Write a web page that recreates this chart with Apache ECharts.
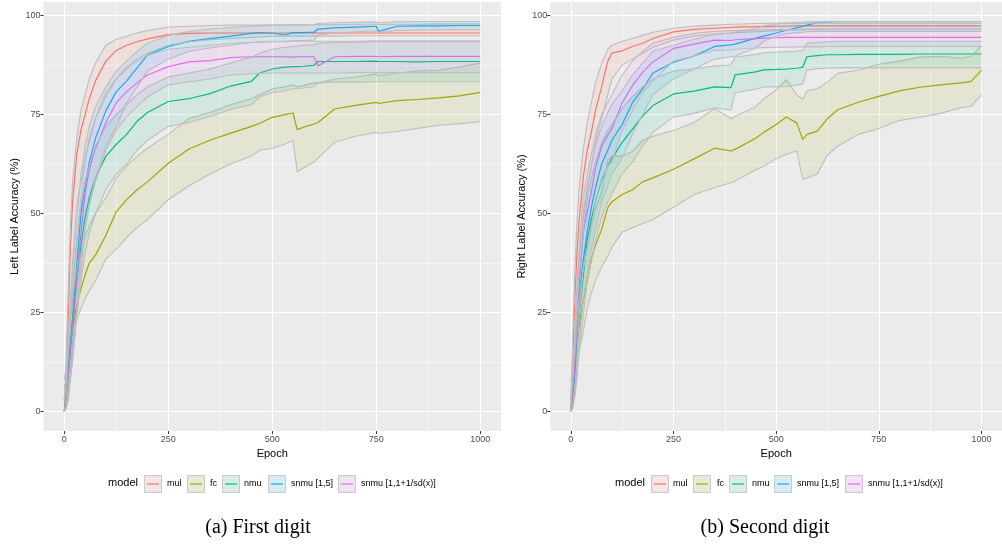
<!DOCTYPE html>
<html><head><meta charset="utf-8">
<script src="https://cdn.jsdelivr.net/npm/echarts@6/dist/echarts.min.js"></script>
<style>html,body{margin:0;padding:0;background:#fff}#c{width:1002px;height:548px}</style>
</head><body><div id="c"></div>
<script>
// ---------- data ----------
const modelNames = ['mul', 'fc', 'nmu', 'snmu [1,5]', 'snmu [1,1+1/sd(x)]'];
const xTicks = [0, 250, 500, 750, 1000];
const yTicks = [0, 25, 50, 75, 100];
const xMinor = [125, 375, 625, 875];
const yMinor = [12.5, 37.5, 62.5, 87.5];
const captions = ['(a) First digit', '(b) Second digit'];
const yTitles = ['Left Label Accuracy (%)', 'Right Label Accuracy (%)'];

// Panel (a): first digit
const epochsA = [0,5,10,15,20,30,40,50,60,75,100,125,150,175,200,250,300,350,400,450,470,500,530,550,560,575,600,610,650,700,750,755,800,850,900,950,1000];
const mulA = [0,10,26,42,53,65,71,75,79,83.5,88.5,91.2,92.5,93.4,94.1,95.2,95.5,95.6,95.6,95.6,95.7,95.6,95.6,95.6,95.6,95.6,95.7,95.6,95.6,95.6,95.6,95.6,95.6,95.6,95.6,95.6,95.6];
const mulA_hi = [2,15,32,48,58,69,76,80,84,88,92.5,94,94.8,95.6,96.2,97.1,97.3,97.5,97.6,97.6,97.6,97.7,97.7,97.7,97.7,97.7,97.7,97.7,97.7,97.8,97.8,97.8,97.8,97.8,97.9,97.9,97.9];
const mulA_lo = [0,4,16,28,38,52,58,64,68,74,80.5,84,87,89,90.5,92.5,93.4,93.9,94.2,94.5,94.6,94.8,94.8,94.8,94.8,94.8,94.8,94.8,94.8,94.9,94.9,94.9,94.9,94.9,94.9,94.9,94.9];
const fcA = [6,8,12,17,21,27,31,34.5,37.5,39.5,44.5,50.5,53.5,56,58,62.7,66.3,68.5,70.3,72,72.8,74.3,75,75.4,71.2,71.8,72.6,73,76.4,77.3,78.1,77.8,78.5,78.8,79.2,79.7,80.6];
const fcA_hi = [8,12,18,24,29,36,40,44,47,50,54,59,62,64.5,66.5,70,74,75.5,77.5,79,80,81.5,82,82.5,82,82.3,83,83,84,84.5,85.2,84.8,85.5,86,86.2,87,88];
const fcA_lo = [0,1,3,10,18,23,26,28.5,30.5,33,38.5,41,44,46.5,48.5,53.5,57,60,62.5,64.5,66,66.5,67.5,68.5,60.6,61.5,63,64,68,69.5,70.5,70.2,70.7,71.5,72.3,72.7,73.2];
const nmuA = [0,4,10,16,22,33,42,49,54,59,64.5,67.5,70,73.3,75.5,78.3,79,80.3,82.2,83.4,85.5,86.5,87,87.1,87.1,87.2,87.4,88.4,88.4,88.4,88.5,88.4,88.4,88.3,88.4,88.4,88.4];
const nmuA_hi = [3,8,16,24,31,43,52,58,62,67,72,75,77.5,80,82,84.5,85.5,86.5,88,89.5,90.5,91.5,92,92.2,92.3,92.5,92.6,93,93.2,93.3,93.4,93.4,93.4,93.4,93.4,93.4,93.4];
const nmuA_lo = [0,1,5,9,14,24,33,40,45,50,56,60,62.5,66,68.5,72,73,74.5,76.3,77.5,79.5,80.5,81,81.5,81.5,81.7,82,83,83.2,83.2,83.3,83.3,83.3,83.3,83.3,83.3,83.3];
const s15A = [0,5,12,18,24,37,50,57,63,69,76,80.8,83.5,86.8,90,92.2,93.5,94.2,94.8,95.5,95.6,95.6,95.1,95.7,95.7,95.7,95.8,96.6,96.9,97.1,97.3,96,97.3,97.4,97.4,97.5,97.5];
const s15A_hi = [3,10,20,28,35,48,60,67,72,77,82,86,88.5,91,93,95,96,96.6,97,97.3,97.4,97.5,97.5,97.6,97.6,97.6,97.7,98,98.2,98.3,98.4,98.2,98.4,98.5,98.5,98.5,98.5];
const s15A_lo = [0,1,5,9,13,26,38,46,52,59,67,72,78,82,86,89,91,91.8,92.5,93.2,93.4,93.5,93.5,93.7,93.7,93.7,93.8,95,95.6,95.9,96.1,95.8,96.2,96.3,96.4,96.4,96.4];
const sdA = [0,4,10,16,22,33,45,55,61,66.5,73,78,80.8,83,85,87.1,88.3,88.6,89.4,89.6,89.6,89.6,89.6,89.5,89.6,89.6,89.6,87.3,89.6,89.7,89.7,89.6,89.7,89.7,89.7,89.7,89.7];
const sdA_hi = [3,9,17,25,31,43,54,63,69,74,79.5,84,86.5,88.5,90,91.5,92,92.5,93,93.2,93.3,93.4,93.4,93.5,93.5,93.5,93.5,93.5,93.5,93.5,93.6,93.6,93.6,93.6,93.6,93.6,93.6];
const sdA_lo = [0,1,4,8,13,24,35,46,52,58,66,71,74.5,77,79.5,82.5,83.3,84,85,85.3,85.4,85.5,85.5,85.5,85.5,85.5,85.5,85.5,85.5,85.6,85.6,85.6,85.6,85.6,85.6,85.6,85.6];

// Panel (b): second digit
const epochsB = [0,5,10,15,20,30,40,50,60,75,90,100,125,150,175,200,250,300,350,390,400,450,470,500,525,550,565,575,600,625,650,700,750,800,850,900,950,975,1000];
const mulB = [0,14,29,40,48,59,66,70.5,76,82,88.5,90.5,91.1,92.2,93,94.2,95.9,96.5,96.8,97,97.1,97.2,97.2,97.3,97.3,97.4,97.4,97.4,97.4,97.4,97.4,97.4,97.4,97.4,97.4,97.4,97.4,97.4,97.4];
const mulB_hi = [3,20,36,48,56,66,73,78,83,88,91.5,92.5,93.5,94.2,95,95.8,96.8,97.3,97.6,97.8,97.8,98,98,98.1,98.1,98.1,98.1,98.1,98.1,98.1,98.1,98.1,98.1,98.1,98.1,98.1,98.1,98.1,98.1];
const mulB_lo = [0,8,22,32,40,50,57,62,68,74,80,84,87.5,89,90.5,92,93.8,94.8,95.3,95.6,95.7,95.9,96,96.2,96.3,96.4,96.4,96.5,96.5,96.5,96.6,96.6,96.6,96.6,96.6,96.6,96.6,96.6,96.6];
const fcB = [4,6,10,16,21.5,28,33,38.5,42,46,51.5,53,54.8,56,58,59,61.2,63.8,66.5,65.8,66.2,69,70.5,72.5,74.4,72.9,68.7,70,70.8,74,76.2,78.1,79.6,81,81.9,82.5,83,83.4,86.2];
const fcB_hi = [8,10,15,22,28,36,41,47,51,55.5,63.5,64.5,64.5,65.7,68.5,69.5,71,73,76.5,74,74.5,77,79,81.2,83.8,80,78.8,81,81.5,83.2,85.4,86.2,87.7,88.5,89.5,89.7,89.3,89.7,92.4];
const fcB_lo = [0,2,6,11,15,20,26,30,33,36.5,39.2,41.5,45.3,46.4,47.5,48.5,51.6,54.8,56.5,57.8,58.2,61,62,63.8,65,65.8,58.6,59,60,64.8,67,70,71.5,73.5,74.3,75.3,76.7,77.1,80];
const nmuB = [0,4,10,17,24,34,43.5,48.5,53,58.5,62,63.8,68,71.3,74.6,77.3,80.2,80.9,82,81.8,85,85.8,86.3,86.4,86.5,86.7,87,89.6,89.9,90.1,90.1,90.2,90.2,90.2,90.3,90.3,90.3,90.3,90.3];
const nmuB_hi = [3,9,17,26,34,45,54,59,63,68,71,72.5,76.5,79.5,82,84,86,86.5,87.3,87.5,89.5,90.2,90.6,90.8,90.9,91,91.2,93,93.2,93.4,93.5,93.5,93.5,93.5,93.5,93.5,93.5,93.5,93.5];
const nmuB_lo = [0,1,4,9,15,24,33,38,43,49,53,55,60,63,67,70.5,74.4,75.3,76.7,76.1,80.5,81.4,82,82,82.1,82.4,82.8,86.2,86.6,86.7,86.8,86.8,86.8,86.8,86.8,86.8,86.8,86.8,86.8];
const s15B = [0,4,10,17,29,38,45.5,51.5,56.5,62.5,66,68.5,72.5,78,81.5,85.5,88.2,89.8,92.2,92.6,92.8,94.3,94.8,95.6,96.3,96.9,97.3,97.6,98.2,98.4,98.5,98.5,98.5,98.5,98.5,98.5,98.5,98.5,98.5];
const s15B_hi = [3,10,18,27,38,48,56,62,67,72,75.5,77.5,81,85,88,91,92.5,94,95.2,95.6,95.8,96.8,97.4,97.8,98.1,98.3,98.3,98.4,98.4,98.4,98.5,98.5,98.5,98.5,98.5,98.5,98.5,98.5,98.5];
const s15B_lo = [0,1,4,9,18,28,35,41,46,53,57,60,64,70,75,80,84,86.5,89,89.6,89.8,91.8,93.5,94.8,95.4,95.7,95.8,95.9,96,96,96,96,96,96,96,96,96,96,96];
const sdB = [0,5,12,22,32,45,50.5,55.5,61.5,67,69.8,71.5,78,82.3,85.7,88.3,91.7,92.8,93.8,93.7,93.9,94.2,94.3,94.4,94.5,94.5,94.5,94.5,94.5,94.5,94.5,94.5,94.5,94.5,94.5,94.5,94.5,94.5,94.5];
const sdB_hi = [3,11,20,30,40,54,60,65,70,75,78,80,85,88.5,91,93,94.5,95.5,96,96.2,96.2,96.4,96.4,96.5,96.5,96.5,96.6,96.6,96.6,96.6,96.6,96.6,96.6,96.6,96.6,96.6,96.6,96.6,96.6];
const sdB_lo = [0,1,5,14,24,36,41,46,53,59,62,63,71,76,80.5,83.5,88.5,89.8,91.2,91.3,91.5,91.8,91.9,92,92,92.1,92.1,92.1,92.1,92.2,92.2,92.2,92.2,92.2,92.2,92.2,92.2,92.2,92.2];

// ---------- assembly ----------
const palette = ['#F8766D', '#A3A500', '#00BF7D', '#00B0F6', '#E76BF3'];
const bandEdge = '#BEBEBE';
const FONT = '"Liberation Sans", Arial, Helvetica, sans-serif';
const panels = [
  { ep: epochsA, models: [[mulA, mulA_lo, mulA_hi], [fcA, fcA_lo, fcA_hi], [nmuA, nmuA_lo, nmuA_hi], [s15A, s15A_lo, s15A_hi], [sdA, sdA_lo, sdA_hi]] },
  { ep: epochsB, models: [[mulB, mulB_lo, mulB_hi], [fcB, fcB_lo, fcB_hi], [nmuB, nmuB_lo, nmuB_hi], [s15B, s15B_lo, s15B_hi], [sdB, sdB_lo, sdB_hi]] }
];
function rgba(hex, a) { const n = parseInt(hex.slice(1), 16); return 'rgba(' + (n >> 16) + ',' + ((n >> 8) & 255) + ',' + (n & 255) + ',' + a + ')'; }

const gridLayout = [
  { left: 43.5, top: 2, width: 457.5, height: 429 },
  { left: 550.3, top: 2, width: 457.5, height: 429 }
];
const grid = [], xAxis = [], yAxis = [], series = [];
panels.forEach((p, pi) => {
  grid.push(Object.assign({ show: true, backgroundColor: '#EBEBEB', borderWidth: 0, containLabel: false }, gridLayout[pi]));
  xAxis.push({ type: 'value', gridIndex: pi, min: -50, max: 1050, name: 'Epoch', nameLocation: 'middle', nameGap: 15,
    nameTextStyle: { color: '#000', fontSize: 11, fontFamily: FONT },
    axisLine: { show: false, onZero: false },
    axisTick: { show: true, length: 3, customValues: xTicks, lineStyle: { color: '#333', width: 1 } },
    axisLabel: { customValues: xTicks, color: '#4D4D4D', fontSize: 9, margin: 4, fontFamily: FONT, formatter: v => String(v) },
    splitLine: { show: true, customValues: xTicks, lineStyle: { color: '#FFFFFF', width: 1.1 } } });
  xAxis.push({ type: 'value', gridIndex: pi, min: -50, max: 1050,
    axisLine: { show: false, onZero: false }, axisTick: { show: false, customValues: xMinor },
    axisLabel: { show: false, customValues: xMinor },
    splitLine: { show: true, customValues: xMinor, lineStyle: { color: '#FFFFFF', width: 0.55 } } });
  yAxis.push({ type: 'value', gridIndex: pi, min: -4.93, max: 103.43, name: yTitles[pi], nameLocation: 'middle', nameGap: 23, nameRotate: 90,
    nameTextStyle: { color: '#000', fontSize: 11, fontFamily: FONT },
    axisLine: { show: false, onZero: false },
    axisTick: { show: true, length: 3, customValues: yTicks, lineStyle: { color: '#333', width: 1 } },
    axisLabel: { customValues: yTicks, color: '#4D4D4D', fontSize: 9, margin: 3, fontFamily: FONT, formatter: v => String(v) },
    splitLine: { show: true, customValues: yTicks, lineStyle: { color: '#FFFFFF', width: 1.1 } } });
  yAxis.push({ type: 'value', gridIndex: pi, min: -4.93, max: 103.43,
    axisLine: { show: false, onZero: false }, axisTick: { show: false, customValues: yMinor },
    axisLabel: { show: false, customValues: yMinor },
    splitLine: { show: true, customValues: yMinor, lineStyle: { color: '#FFFFFF', width: 0.55 } } });
});

// mean lines first, ribbons (translucent fill + gray edges) drawn over them
panels.forEach((p, pi) => {
  p.models.forEach((m, mi) => {
    series.push({ type: 'line', name: modelNames[mi], xAxisIndex: pi * 2, yAxisIndex: pi * 2, z: 2,
      showSymbol: false, symbol: 'none', silent: true,
      data: p.ep.map((e, i) => [e, m[0][i]]),
      lineStyle: { color: palette[mi], width: 1.2 } });
  });
  p.models.forEach((m, mi) => {
    const lo = m[1], hi = m[2];
    series.push({ type: 'custom', xAxisIndex: pi * 2, yAxisIndex: pi * 2, silent: true, z: 3,
      data: [[p.ep[0], lo[0]]],
      renderItem: function (params, api) {
        const up = p.ep.map((e, i) => api.coord([e, hi[i]]));
        const dn = p.ep.map((e, i) => api.coord([e, lo[i]]));
        return { type: 'group', children: [
          { type: 'polygon', shape: { points: up.concat(dn.slice().reverse()) }, style: { fill: rgba(palette[mi], 0.1), stroke: null } },
          { type: 'polyline', shape: { points: up }, style: { fill: null, stroke: bandEdge, lineWidth: 1.1 } },
          { type: 'polyline', shape: { points: dn }, style: { fill: null, stroke: bandEdge, lineWidth: 1.1 } }
        ] };
      } });
  });
});

// legend & captions (graphic)
const legendLayout = [
  { title: 108, keys: [144, 187, 222, 268, 338], texts: [167, 210, 244, 291, 361], cap: 258 },
  { title: 615, keys: [651, 693, 729, 774, 845], texts: [673, 717, 752, 797, 868], cap: 765 }
];
const graphic = [];
legendLayout.forEach((L, pi) => {
  graphic.push({ type: 'text', left: L.title, top: 477, style: { text: 'model', fontSize: 11, fill: '#000', fontFamily: FONT } });
  modelNames.forEach((nm, mi) => {
    graphic.push({ type: 'rect', shape: { x: L.keys[mi] + 0.5, y: 475.5, width: 17, height: 17 },
      style: { fill: '#F2F2F2', stroke: null } });
    graphic.push({ type: 'line', shape: { x1: L.keys[mi] + 3, y1: 484, x2: L.keys[mi] + 15, y2: 484 },
      style: { stroke: palette[mi], lineWidth: 1.2 } });
    graphic.push({ type: 'rect', shape: { x: L.keys[mi] + 0.5, y: 475.5, width: 17, height: 17 },
      style: { fill: rgba(palette[mi], 0.1), stroke: '#C8C8C8', lineWidth: 1 } });
    graphic.push({ type: 'text', left: L.texts[mi], top: 479, style: { text: nm, fontSize: 9, fill: '#000', fontFamily: FONT } });
  });
  graphic.push({ type: 'text', x: L.cap, y: 528, style: { text: captions[pi], fontSize: 20, fill: '#000',
    fontFamily: '"Liberation Serif", "Times New Roman", serif', align: 'center', verticalAlign: 'middle' } });
});

const chart = echarts.init(document.getElementById('c'), null, { renderer: 'canvas' });
chart.setOption({ animation: false, backgroundColor: '#FFFFFF', grid, xAxis, yAxis, series, graphic });
</script></body></html>
